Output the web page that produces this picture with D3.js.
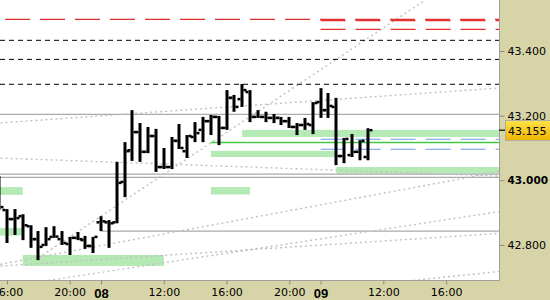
<!DOCTYPE html>
<html>
<head>
<meta charset="utf-8">
<script src="https://cdn.jsdelivr.net/npm/d3@7"></script>
<style>
  body { margin: 0; background: #fff; }
  svg { display: block; }
</style>
</head>
<body>
<svg id="chart" width="550" height="300"></svg>
<script>
// ========= Data (30 min OHLC bars)
const barTime = [
  "07 15:30", "07 16:00", "07 16:30", "07 17:00", "07 17:30", "07 18:00", "07 18:30",
  "07 19:00", "07 19:30", "07 20:00", "07 20:30", "07 21:00", "07 21:30",
  "08 08:00", "08 08:30", "08 09:00", "08 09:30", "08 10:00", "08 10:30", "08 11:00",
  "08 11:30", "08 12:00", "08 12:30", "08 13:00", "08 13:30", "08 14:00", "08 14:30",
  "08 15:00", "08 15:30", "08 16:00", "08 16:30", "08 17:00", "08 17:30", "08 18:00",
  "08 18:30", "08 19:00", "08 19:30", "08 20:00", "08 20:30", "08 21:00", "08 21:30",
  "09 08:00", "09 08:30", "09 09:00", "09 09:30", "09 10:00", "09 10:30", "09 11:00"
];
const barOpen = [
  43.001, 42.908, 42.880, 42.889, 42.858, 42.818, 42.800,
  42.825, 42.818, 42.803, 42.822, 42.815, 42.797,
  42.870, 42.870, 42.870, 42.995, 43.093, 43.149, 43.088,
  43.137, 43.041, 43.041, 43.122, 43.090, 43.134, 43.156,
  43.183, 43.196, 43.162, 43.255, 43.251, 43.273, 43.196,
  43.196, 43.193, 43.193, 43.183, 43.165, 43.171, 43.171,
  43.242, 43.217, 43.227, 43.075, 43.078, 43.088, 43.072
];
const barHigh = [
  43.013, 42.911, 42.911, 42.895, 42.861, 42.843, 42.855,
  42.858, 42.843, 42.825, 42.840, 42.828, 42.825,
  42.889, 42.877, 43.057, 43.118, 43.217, 43.177, 43.165,
  43.159, 43.100, 43.134, 43.174, 43.140, 43.180, 43.196,
  43.202, 43.199, 43.279, 43.264, 43.298, 43.279, 43.217,
  43.212, 43.205, 43.196, 43.196, 43.177, 43.193, 43.242,
  43.285, 43.270, 43.255, 43.131, 43.143, 43.124, 43.161
];
const barLow = [
  42.908, 42.806, 42.831, 42.815, 42.791, 42.753, 42.797,
  42.822, 42.800, 42.769, 42.815, 42.788, 42.775,
  42.843, 42.791, 42.867, 42.948, 43.060, 43.057, 43.084,
  43.026, 43.035, 43.035, 43.097, 43.069, 43.118, 43.118,
  43.140, 43.109, 43.156, 43.212, 43.227, 43.180, 43.193,
  43.180, 43.177, 43.171, 43.162, 43.140, 43.156, 43.143,
  43.193, 43.193, 43.047, 43.053, 43.072, 43.062, 43.062
];
const barClose = [
  42.917, 42.880, 42.883, 42.861, 42.818, 42.794, 42.818,
  42.826, 42.806, 42.822, 42.818, 42.797, 42.825,
  42.873, 42.867, 42.992, 43.090, 43.149, 43.088, 43.137,
  43.041, 43.041, 43.122, 43.100, 43.137, 43.146, 43.183,
  43.196, 43.162, 43.255, 43.227, 43.279, 43.196, 43.196,
  43.193, 43.193, 43.183, 43.165, 43.171, 43.174, 43.239,
  43.217, 43.230, 43.075, 43.128, 43.088, 43.122, 43.155
];
const lastPrice = 43.155;

// ========= Levels
const redLevels = [43.498];                 // full width
const redLevelsDay9 = [43.494, 43.467];     // from 09 08:00
const blackDashLevels = [43.433, 43.374, 43.297];
const greyLevels = [43.204, 43.019, 43.009];
const greyLevelsFrom = [["08 08:00", 42.843]];
const greenLine = ["08 15:00", 43.117];
const blueLevels = [43.127, 43.096];        // from 09 08:00
const levelStartDay9 = "09 08:00";

// zones: start, end, high, low
const zones = [
  ["07 14:00", "07 17:00", 42.979, 42.955],
  ["07 14:00", "07 17:00", 42.852, 42.829],
  ["07 17:00", "08 12:00", 42.769, 42.735],
  ["08 15:00", "09 09:00", 43.091, 43.072],
  ["08 15:00", "08 17:30", 42.979, 42.956],
  ["08 17:00", "09 22:00", 43.156, 43.134],
  ["09 09:00", "09 22:00", 43.041, 43.021]
];

// trend lines: anchor1 time, price, anchor2 time, price, drawn from-time
const trendLines = [
  ["07 16:00", 43.179, "09 16:00", 43.274, "07 14:00"],
  ["07 16:00", 43.068, "09 16:00", 43.019, "07 14:00"],
  ["07 18:00", 42.762, "08 16:00", 42.870, "07 14:00"],
  ["07 16:00", 42.736, "09 16:00", 42.825, "07 14:00"],
  ["07 18:00", 42.760, "08 16:00", 43.148, "07 18:00"],
  ["07 19:00", 42.693, "09 16:00", 42.878, "07 18:00"],
  ["09 14:00", 42.691, "09 17:00", 42.706, "09 12:00"]
];
const trendEnd = "09 22:00";

// ========= Axis ticks
const yTicks = [42.8, 43.0, 43.2, 43.4];
const xTickTimes = ["07 16:00", "07 20:00", "08 08:00", "08 12:00", "08 16:00", "08 20:00", "09 08:00", "09 12:00", "09 16:00"];
const xTickLabels = ["16:00", "20:00", "08", "12:00", "16:00", "20:00", "09", "12:00", "16:00"];
const dayLabels = new Set(["08", "09"]);

// ========= Layout
const W = 550, H = 300;
const plotW = 499, plotH = 280;
const panelColor = "#d7d4a7";

// trading session 08:00-22:00, index in hours from 07 16:00
function sessionIndex(s) {
  const day = +s.slice(0, 2);
  const [hh, mm] = s.slice(3).split(":").map(Number);
  return (day - 7) * 14 + hh + mm / 60 - 16;
}

const x = d3.scaleLinear().domain([-0.4464, 31.378]).range([0, plotW]);
const y = d3.scaleLinear().domain([42.6916, 43.5577]).range([plotH, 0]);
const xt = s => x(sessionIndex(s));

const svg = d3.select("#chart");

svg.append("rect").attr("width", W).attr("height", H).attr("fill", panelColor);
svg.append("rect").attr("width", plotW).attr("height", plotH).attr("fill", "#fff");

svg.append("defs").append("clipPath").attr("id", "plotClip")
  .append("rect").attr("width", plotW).attr("height", plotH);

const plot = svg.append("g").attr("clip-path", "url(#plotClip)");

// ========= Zones
plot.selectAll("rect.zone")
  .data(zones)
  .enter()
  .append("rect")
  .attr("class", "zone")
  .attr("x", d => xt(d[0]))
  .attr("width", d => xt(d[1]) - xt(d[0]))
  .attr("y", d => y(d[2]))
  .attr("height", d => y(d[3]) - y(d[2]))
  .attr("fill", "#b5eab5");

// ========= Grey levels
const hline = (g, price, x0, color, width, dash, offset) => {
  g.append("line")
    .attr("x1", x0).attr("x2", plotW)
    .attr("y1", y(price)).attr("y2", y(price))
    .attr("stroke", color)
    .attr("stroke-width", width)
    .attr("stroke-dasharray", dash || null)
    .attr("stroke-dashoffset", offset || 0);
};

greyLevels.forEach(p => hline(plot, p, 0, "#aaaaaa", 1.2));
greyLevelsFrom.forEach(([t, p]) => hline(plot, p, xt(t), "#aaaaaa", 1.2));

// ========= Dotted trend lines
const tLine = d3.line().x(d => d[0]).y(d => d[1]);
plot.selectAll("path.trend")
  .data(trendLines)
  .enter()
  .append("path")
  .attr("class", "trend")
  .attr("fill", "none")
  .attr("stroke", "#c0c0c0")
  .attr("stroke-width", 1.4)
  .attr("stroke-dasharray", "2,3")
  .attr("d", d => {
    const t1 = sessionIndex(d[0]), t2 = sessionIndex(d[2]);
    const priceAt = t => d[1] + (d[3] - d[1]) * (t - t1) / (t2 - t1);
    const ts = sessionIndex(d[4]), te = sessionIndex(trendEnd);
    return tLine([[x(ts), y(priceAt(ts))], [x(te), y(priceAt(te))]]);
  });

// ========= Dashed levels
blackDashLevels.forEach(p => hline(plot, p, 0, "#000", 1, "5,4"));
redLevels.forEach(p => hline(plot, p, 0, "#e03030", 1.2, "25,10", 30));
redLevelsDay9.forEach(p => hline(plot, p, xt(levelStartDay9), "#e83030", 1.2, "25,10", 0));
blueLevels.forEach(p => hline(plot, p, xt(levelStartDay9), "#6e98ea", 1.2, "25,10", 0));
hline(plot, greenLine[1], xt(greenLine[0]), "#44c844", 1.5);

// ========= OHLC bars
const bars = barTime.map((t, i) => ({
  t, o: barOpen[i], h: barHigh[i], l: barLow[i], c: barClose[i]
}));

const barG = plot.selectAll("g.bar")
  .data(bars)
  .enter()
  .append("g")
  .attr("class", "bar")
  .attr("fill", "#000");

barG.append("rect")
  .attr("x", d => Math.round(xt(d.t)) - 1.5)
  .attr("width", 3)
  .attr("y", d => y(d.h))
  .attr("height", d => Math.max(2, y(d.l) - y(d.h)));
barG.append("rect")
  .attr("x", d => Math.round(xt(d.t)) - 4.5)
  .attr("width", 3)
  .attr("y", d => y(d.o) - 1.25)
  .attr("height", 2.5);
barG.append("rect")
  .attr("x", d => Math.round(xt(d.t)) + 1.5)
  .attr("width", 3)
  .attr("y", d => y(d.c) - 1.25)
  .attr("height", 2.5);

// ========= Border
svg.append("line").attr("x1", plotW + 0.5).attr("x2", plotW + 0.5).attr("y1", 0).attr("y2", plotH + 0.5)
  .attr("stroke", "#a0a0a0");
svg.append("line").attr("x1", 0).attr("x2", plotW + 0.5).attr("y1", plotH + 0.5).attr("y2", plotH + 0.5)
  .attr("stroke", "#a0a0a0");

// ========= Axes
const yAxis = svg.append("g")
  .attr("transform", `translate(${plotW + 0.5},0)`)
  .call(d3.axisRight(y).tickValues(yTicks).tickFormat(d3.format(".3f")).tickSize(5).tickPadding(3));
yAxis.select(".domain").remove();
yAxis.selectAll(".tick line").attr("stroke", "#8a8a8a");
yAxis.selectAll(".tick text")
  .attr("fill", "#000")
  .attr("font-family", "DejaVu Sans")
  .attr("font-weight", d => d === 43.0 ? "bold" : "normal")
  .attr("font-size", d => d === 43.0 ? 10.5 : 11);

const xAxis = svg.append("g")
  .attr("transform", `translate(0,${plotH + 0.5})`)
  .call(d3.axisBottom(x)
    .tickValues(xTickTimes.map(sessionIndex))
    .tickFormat((d, i) => xTickLabels[i])
    .tickSize(4).tickPadding(4));
xAxis.select(".domain").remove();
xAxis.selectAll(".tick line").attr("stroke", "#8a8a8a");
xAxis.selectAll(".tick text")
  .attr("fill", "#000")
  .attr("font-family", (d, i) => dayLabels.has(xTickLabels[i]) ? "Liberation Sans" : "DejaVu Sans")
  .attr("font-weight", (d, i) => dayLabels.has(xTickLabels[i]) ? "bold" : "normal")
  .attr("font-size", (d, i) => dayLabels.has(xTickLabels[i]) ? 13 : 11);

// ========= Last price label
const grad = svg.select("defs").append("linearGradient")
  .attr("id", "priceGrad").attr("x1", 0).attr("x2", 0).attr("y1", 0).attr("y2", 1);
grad.append("stop").attr("offset", "0%").attr("stop-color", "#ffe24a");
grad.append("stop").attr("offset", "100%").attr("stop-color", "#f0b400");

const py = y(lastPrice);
svg.append("line")
  .attr("x1", plotW).attr("x2", plotW + 6)
  .attr("y1", py).attr("y2", py)
  .attr("stroke", "#000").attr("stroke-width", 1.2);
svg.append("rect")
  .attr("x", plotW + 6.5).attr("y", Math.round(py) - 9.5)
  .attr("width", 50).attr("height", 20)
  .attr("fill", "url(#priceGrad)")
  .attr("stroke", "#b0b0a0");
svg.append("text")
  .attr("x", plotW + 9).attr("y", py + 4.5)
  .attr("font-family", "DejaVu Sans").attr("font-size", 11)
  .attr("fill", "#000")
  .text(d3.format(".3f")(lastPrice));
</script>
</body>
</html>
